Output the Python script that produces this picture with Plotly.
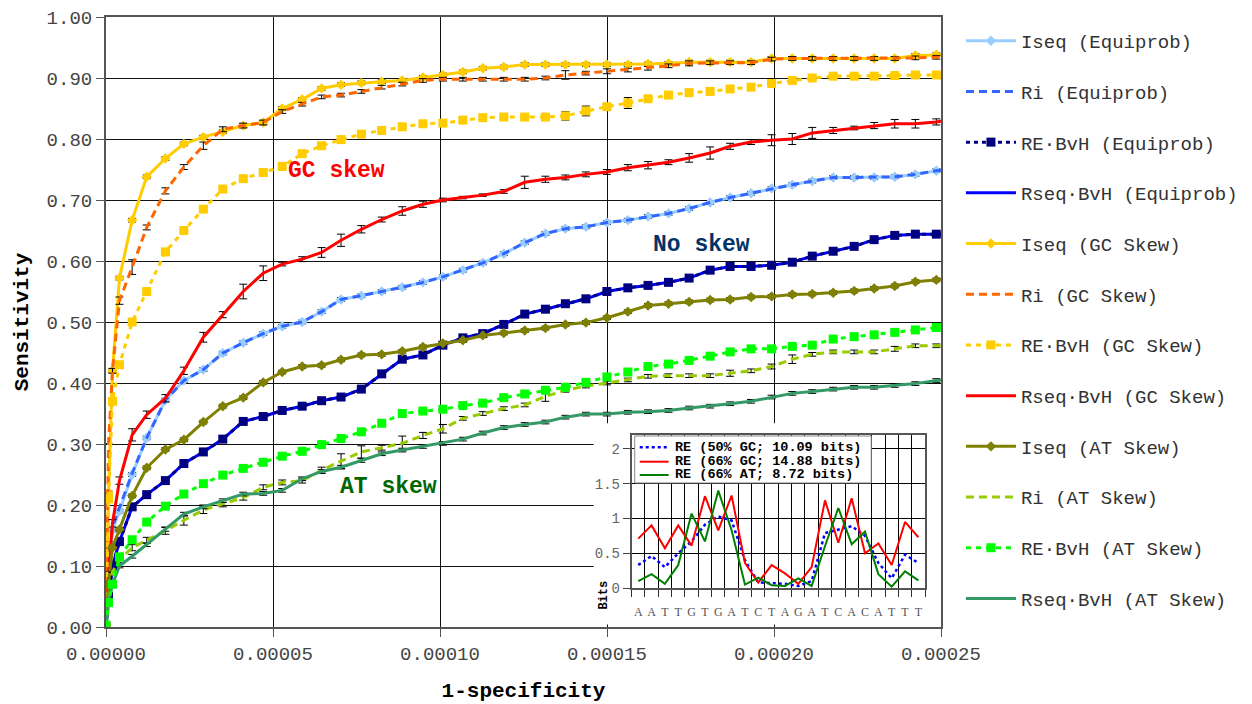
import plotly.graph_objects as go

# ---------------- data ----------------
# false positive rate (1-specificity), in units of 1e-6
fpr_per_million = [0, 0.75, 1.94, 4.03, 7.83, 12.19, 17.78, 23.31, 29.14, 34.97,
                   41.09, 47.07, 52.75, 58.73, 64.55, 70.38, 76.45, 82.55, 88.70, 94.89,
                   100.87, 106.85, 112.82, 119.10, 125.37, 131.56, 137.54, 143.69, 149.97, 156.24,
                   162.28, 168.41, 174.59, 180.87, 186.85, 193.13, 199.28, 205.47, 211.45, 217.72,
                   224.00, 229.98, 236.16, 242.32, 248.60, 254.78]
fpr = [v * 1e-6 for v in fpr_per_million]

iseq_eq = [0, 0.08, 0.159, 0.19, 0.25, 0.31, 0.372, 0.404, 0.422, 0.449,
           0.466, 0.481, 0.493, 0.500, 0.517, 0.537, 0.543, 0.550, 0.557, 0.565,
           0.574, 0.585, 0.597, 0.612, 0.630, 0.645, 0.653, 0.656, 0.663, 0.667,
           0.673, 0.678, 0.686, 0.696, 0.704, 0.711, 0.719, 0.725, 0.731, 0.737,
           0.737, 0.737, 0.738, 0.742, 0.748, 0.752]
ri_eq = [0, 0.09, 0.165, 0.195, 0.252, 0.31, 0.372, 0.404, 0.422, 0.449,
         0.466, 0.481, 0.493, 0.500, 0.517, 0.537, 0.543, 0.550, 0.557, 0.565,
         0.574, 0.585, 0.597, 0.612, 0.630, 0.645, 0.653, 0.656, 0.663, 0.667,
         0.673, 0.678, 0.686, 0.696, 0.704, 0.711, 0.719, 0.725, 0.731, 0.737,
         0.737, 0.737, 0.738, 0.742, 0.748, 0.752]
re_eq = [0, 0.05, 0.10, 0.14, 0.197, 0.217, 0.240, 0.268, 0.287, 0.308,
         0.337, 0.345, 0.355, 0.362, 0.371, 0.377, 0.390, 0.415, 0.439, 0.446,
         0.462, 0.474, 0.481, 0.496, 0.513, 0.521, 0.530, 0.538, 0.550, 0.556,
         0.560, 0.565, 0.572, 0.585, 0.591, 0.591, 0.593, 0.598, 0.608, 0.616,
         0.624, 0.635, 0.642, 0.644, 0.644, 0.644]
rseq_eq = [0, 0.05, 0.10, 0.14, 0.197, 0.217, 0.240, 0.268, 0.287, 0.308,
           0.337, 0.345, 0.355, 0.362, 0.371, 0.377, 0.390, 0.415, 0.439, 0.446,
           0.462, 0.474, 0.481, 0.496, 0.513, 0.521, 0.530, 0.538, 0.550, 0.556,
           0.560, 0.565, 0.572, 0.585, 0.591, 0.591, 0.593, 0.598, 0.608, 0.616,
           0.624, 0.635, 0.642, 0.644, 0.644, 0.644]

iseq_gc = [0, 0.22, 0.42, 0.572, 0.667, 0.738, 0.768, 0.792, 0.803, 0.812,
           0.822, 0.827, 0.850, 0.865, 0.883, 0.889, 0.892, 0.894, 0.896, 0.901,
           0.905, 0.910, 0.916, 0.918, 0.922, 0.922, 0.922, 0.922, 0.922, 0.922,
           0.923, 0.924, 0.926, 0.926, 0.926, 0.926, 0.932, 0.932, 0.932, 0.932,
           0.932, 0.932, 0.932, 0.937, 0.938, 0.938]
ri_gc = [0, 0.30, 0.42, 0.535, 0.59, 0.655, 0.715, 0.754, 0.789, 0.816,
         0.822, 0.827, 0.845, 0.857, 0.869, 0.872, 0.878, 0.885, 0.890, 0.896,
         0.898, 0.898, 0.898, 0.898, 0.898, 0.900, 0.905, 0.908, 0.911, 0.913,
         0.916, 0.920, 0.924, 0.925, 0.925, 0.925, 0.931, 0.932, 0.932, 0.932,
         0.932, 0.932, 0.932, 0.933, 0.934, 0.934]
re_gc = [0, 0.21, 0.37, 0.43, 0.50, 0.55, 0.615, 0.65, 0.685, 0.718,
         0.735, 0.745, 0.755, 0.776, 0.789, 0.799, 0.808, 0.814, 0.820, 0.825,
         0.826, 0.831, 0.835, 0.836, 0.836, 0.836, 0.838, 0.846, 0.853, 0.859,
         0.866, 0.872, 0.876, 0.878, 0.882, 0.885, 0.891, 0.896, 0.900, 0.903,
         0.903, 0.903, 0.904, 0.905, 0.905, 0.905]
rseq_gc = [0, 0.09, 0.17, 0.24, 0.315, 0.348, 0.375, 0.42, 0.475, 0.512,
           0.550, 0.58, 0.595, 0.603, 0.614, 0.634, 0.652, 0.668, 0.682, 0.693,
           0.700, 0.704, 0.708, 0.714, 0.729, 0.734, 0.737, 0.742, 0.746, 0.753,
           0.757, 0.762, 0.769, 0.777, 0.788, 0.795, 0.798, 0.800, 0.810, 0.814,
           0.818, 0.822, 0.825, 0.825, 0.828, 0.833]

iseq_at = [0, 0.07, 0.13, 0.16, 0.215, 0.261, 0.291, 0.307, 0.336, 0.362,
           0.376, 0.401, 0.418, 0.427, 0.429, 0.438, 0.446, 0.447, 0.452, 0.459,
           0.465, 0.470, 0.478, 0.482, 0.486, 0.490, 0.496, 0.499, 0.507, 0.517,
           0.527, 0.530, 0.533, 0.536, 0.537, 0.541, 0.542, 0.545, 0.546, 0.548,
           0.551, 0.555, 0.559, 0.566, 0.569, 0.572]
ri_at = [0, 0.04, 0.09, 0.11, 0.13, 0.142, 0.158, 0.175, 0.192, 0.202,
         0.212, 0.229, 0.237, 0.240, 0.257, 0.272, 0.287, 0.294, 0.301, 0.314,
         0.325, 0.342, 0.350, 0.358, 0.364, 0.378, 0.388, 0.395, 0.400, 0.405,
         0.411, 0.412, 0.412, 0.412, 0.416, 0.420, 0.427, 0.439, 0.447, 0.451,
         0.451, 0.451, 0.456, 0.461, 0.461, 0.462]
re_at = [0.003, 0.04, 0.07, 0.115, 0.143, 0.172, 0.198, 0.218, 0.235, 0.249,
         0.260, 0.270, 0.280, 0.288, 0.299, 0.309, 0.320, 0.334, 0.350, 0.354,
         0.357, 0.363, 0.367, 0.376, 0.382, 0.388, 0.393, 0.401, 0.410, 0.418,
         0.427, 0.431, 0.437, 0.444, 0.451, 0.456, 0.456, 0.460, 0.462, 0.472,
         0.476, 0.479, 0.483, 0.487, 0.491, 0.493]
rseq_at = [0, 0.04, 0.07, 0.10, 0.116, 0.135, 0.160, 0.185, 0.197, 0.207,
           0.218, 0.219, 0.224, 0.243, 0.255, 0.262, 0.273, 0.284, 0.290, 0.296,
           0.301, 0.308, 0.318, 0.327, 0.332, 0.336, 0.344, 0.349, 0.349, 0.352,
           0.353, 0.355, 0.359, 0.362, 0.366, 0.370, 0.377, 0.383, 0.386, 0.390,
           0.393, 0.393, 0.396, 0.399, 0.404, 0.407]

# error bar half-lengths
err_small = 0.003
err_ri_gc = [0, 0, 0.004, 0.006, 0.012, 0.004, 0.005, 0.004, 0.006, 0.004,
             0.004, 0.004, 0.003, 0.003, 0.003, 0.003, 0.003, 0.003, 0.003, 0.003,
             0.003, 0.003, 0.003, 0.003, 0.003, 0.003, 0.007, 0.003, 0.004, 0.003,
             0.003, 0.003, 0.004, 0.003, 0.003, 0.003, 0.003, 0.003, 0.003, 0.003,
             0.003, 0.003, 0.003, 0.003, 0.003, 0]
err_re_gc = [0, 0, 0.003, 0.003, 0.003, 0.004, 0.003, 0.003, 0.003, 0.003,
             0.003, 0.003, 0.003, 0.003, 0.003, 0.003, 0.003, 0.003, 0.003, 0.003,
             0.003, 0.003, 0.003, 0.003, 0.003, 0.003, 0.007, 0.008, 0.004, 0.009,
             0.003, 0.003, 0.003, 0.003, 0.003, 0.004, 0.003, 0.003, 0.003, 0.003,
             0.003, 0.003, 0.003, 0.003, 0.003, 0]
err_rseq_gc = [0, 0, 0.006, 0.006, 0.010, 0.006, 0.006, 0.006, 0.008, 0.005,
               0.012, 0.012, 0.003, 0.004, 0.008, 0.010, 0.006, 0.004, 0.007, 0.005,
               0.003, 0.002, 0.002, 0.003, 0.010, 0.005, 0.004, 0.004, 0.004, 0.005,
               0.006, 0.004, 0.007, 0.010, 0.005, 0.004, 0.009, 0.009, 0.009, 0.005,
               0.003, 0.005, 0.007, 0.007, 0.005, 0]
err_ri_at = [0, 0, 0, 0.004, 0.005, 0.005, 0.006, 0.008, 0.006, 0.005,
             0.004, 0.004, 0.004, 0.004, 0.005, 0.012, 0.010, 0.004, 0.012, 0.005,
             0.007, 0.003, 0.003, 0.003, 0.003, 0.008, 0.003, 0.003, 0.003, 0.003,
             0.003, 0.003, 0.003, 0.003, 0.005, 0.003, 0.004, 0.007, 0.003, 0.003,
             0.003, 0.003, 0.004, 0.003, 0.003, 0]

# inset: relative entropy per motif position
motif = list("AATTGTGATCTAGATCACATTT")
positions = list(range(1, len(motif) + 1))
re_50gc = [0.33, 0.46, 0.30, 0.50, 0.67, 0.91, 1.03, 0.97, 0.40, 0.08, 0.07,
           0.06, 0.03, 0.10, 0.79, 0.84, 0.89, 0.75, 0.36, 0.14, 0.48, 0.36]
re_66gc = [0.71, 0.90, 0.57, 0.90, 0.61, 1.32, 0.83, 1.33, 0.36, 0.08, 0.33,
           0.21, 0.06, 0.30, 1.26, 0.65, 1.29, 0.50, 0.64, 0.33, 0.95, 0.73]
re_66at = [0.10, 0.20, 0.06, 0.33, 1.07, 0.67, 1.40, 0.83, 0.05, 0.15, 0.04,
           0.03, 0.14, 0.03, 0.60, 1.15, 0.63, 0.81, 0.20, 0.02, 0.24, 0.11]
inset_names = ["RE (50% GC; 10.09 bits)", "RE (66% GC; 14.88 bits)", "RE (66% AT; 8.72 bits)"]
inset_colors = ["#0000FF", "#FF0000", "#008000"]
inset_dashes = ["3px,3px", "solid", "solid"]
inset_ticks = [0, 0.5, 1, 1.5, 2]
inset_ticktext = ["0", "0.5", "1", "1.5", "2"]

# ---------------- figure ----------------
MONO = "Liberation Mono, Courier New, monospace"
fig = go.Figure()


def add(name, y, color, dash, rank, symbol=None, msize=8, err=None):
    tr = dict(x=fpr, y=y, name=name, legendgroup=name, legendrank=rank,
              mode="lines+markers" if symbol else "lines",
              line=dict(color=color, width=3, dash=dash))
    if symbol:
        tr["marker"] = dict(symbol=symbol, size=msize, color=color)
    if err is not None:
        if isinstance(err, list):
            tr["error_y"] = dict(type="data", array=err, visible=True,
                                 color="black", thickness=1, width=4)
        else:
            tr["error_y"] = dict(type="constant", value=err, visible=True,
                                 color="black", thickness=1, width=4)
    fig.add_trace(go.Scatter(**tr))


add("Iseq (Equiprob)", iseq_eq, "#99CCFF", "solid", 1, "diamond", 8, err_small)
add("Ri (Equiprob)", ri_eq, "#3366FF", "8px,5px", 2)
add("Rseq\u00b7BvH (Equiprob)", rseq_eq, "#0000FF", "solid", 4)
add("RE\u00b7BvH (Equiprob)", re_eq, "#000080", "4px,4px", 3, "square", 9, err_small)
add("Iseq (GC Skew)", iseq_gc, "#FFCC00", "solid", 5, "diamond", 8, err_small)
add("Ri (GC Skew)", ri_gc, "#FF6600", "8px,5px", 6, None, 8, err_ri_gc)
add("Rseq\u00b7BvH (GC Skew)", rseq_gc, "#FF0000", "solid", 8, None, 8, err_rseq_gc)
add("RE\u00b7BvH (GC Skew)", re_gc, "#FFCC00", "5px,5px", 7, "square", 9, err_re_gc)
add("Iseq (AT Skew)", iseq_at, "#808000", "solid", 9, "diamond", 8, err_small)
add("Ri (AT Skew)", ri_at, "#99CC00", "8px,5px", 10, None, 8, err_ri_at)
add("Rseq\u00b7BvH (AT Skew)", rseq_at, "#339966", "solid", 12, None, 8, err_small)
add("RE\u00b7BvH (AT Skew)", re_at, "#00FF00", "5px,5px", 11, "square", 9, err_small)

# inset traces
for nm, yy, col, ds in zip(inset_names, [re_50gc, re_66gc, re_66at], inset_colors, inset_dashes):
    fig.add_trace(go.Scatter(x=positions, y=yy, xaxis="x2", yaxis="y2", mode="lines",
                             name=nm, showlegend=False,
                             line=dict(color=col, width=2.5 if ds != "solid" else 2, dash=ds)))

# inset key (box, sample lines, labels) in paper coordinates
key_rows_y = [0.2946, 0.2710, 0.2492]
shapes = [
    dict(type="rect", xref="x", yref="y", x0=0.000146, x1=0.00025,
         y0=0.004, y1=0.334, fillcolor="white", line=dict(width=0), layer="between"),
    dict(type="rect", xref="paper", yref="paper", x0=0.6332, x1=0.9164,
         y0=0.2361, y1=0.3131, fillcolor="white", line=dict(color="#888", width=1),
         layer="above"),
]
annotations = [
    dict(text="<b>GC skew</b>", x=6.89e-5, y=0.7475, xref="x", yref="y",
         showarrow=False, font=dict(family=MONO, size=23, color="#FF0000")),
    dict(text="<b>No skew</b>", x=1.7825e-4, y=0.626, xref="x", yref="y",
         showarrow=False, font=dict(family=MONO, size=23, color="#003366")),
    dict(text="<b>AT skew</b>", x=8.47e-5, y=0.2295, xref="x", yref="y",
         showarrow=False, font=dict(family=MONO, size=23, color="#006600")),
    dict(text="<b>Bits</b>", x=0.5968, y=0.052, xref="paper", yref="paper",
         xanchor="center", yanchor="middle",
         textangle=-90, showarrow=False, font=dict(family=MONO, size=12, color="black")),
]
for ky, nm, col, ds in zip(key_rows_y, inset_names, inset_colors, inset_dashes):
    shapes.append(dict(type="line", xref="paper", yref="paper", x0=0.6392, x1=0.6738,
                       y0=ky, y1=ky, layer="above",
                       line=dict(color=col, width=2.5 if ds != "solid" else 2, dash=ds)))
    annotations.append(dict(text="<b>" + nm + "</b>", x=0.6786, y=ky, xref="paper", yref="paper",
                            xanchor="left", yanchor="middle", showarrow=False,
                            font=dict(family=MONO, size=13.5, color="black")))

# the page body adds an 8px margin, so the figure is 8px smaller than the window
fig.update_layout(
    width=1244, height=696,
    margin=dict(l=98, r=309, t=9, b=77),
    paper_bgcolor="white", plot_bgcolor="white",
    font=dict(family=MONO, color="#444"),
    xaxis=dict(range=[0, 0.00025], dtick=0.00005, tick0=0, tickformat=".5f",
               showgrid=True, gridcolor="#111", gridwidth=1, zeroline=False,
               showline=True, linecolor="#555", linewidth=2, mirror=True,
               ticks="outside", ticklen=8, tickcolor="#555", automargin=False,
               ticklabeloverflow="allow",
               tickfont=dict(family=MONO, size=19, color="#444"),
               title=dict(text="<b>1-specificity</b>", standoff=18,
                          font=dict(family=MONO, size=21, color="black"))),
    yaxis=dict(range=[0, 1], dtick=0.1, tick0=0, tickformat=".2f",
               showgrid=True, gridcolor="#111", gridwidth=1, zeroline=False,
               showline=True, linecolor="#555", linewidth=2, mirror=True,
               ticks="outside", ticklen=8, tickcolor="#555", automargin=False,
               ticklabeloverflow="allow",
               tickfont=dict(family=MONO, size=19, color="#444"),
               title=dict(text="<b>Sensitivity</b>", standoff=12,
                          font=dict(family=MONO, size=21, color="black"))),
    xaxis2=dict(domain=[0.6294, 0.9809], anchor="y2", range=[0.5, 22.5],
                tickmode="array", tickvals=positions, ticktext=motif,
                ticks="outside", ticklen=12, tickcolor="rgba(0,0,0,0)",
                showgrid=False, zeroline=False, automargin=False,
                showline=True, linecolor="#555", linewidth=1.5, mirror=True,
                tickfont=dict(family="Liberation Serif, Times New Roman, serif", size=12, color="#555"),
                minor=dict(tickmode="array", tickvals=[i + 0.5 for i in range(len(motif) + 1)],
                           ticks="outside", ticklen=7, tickcolor="#333",
                           showgrid=True, gridcolor="black", gridwidth=1)),
    yaxis2=dict(domain=[0.0639, 0.3148], anchor="x2", range=[0, 2.2],
                tickmode="array", tickvals=inset_ticks, ticktext=inset_ticktext,
                ticks="outside", ticklen=7, tickcolor="#444", automargin=False,
                showgrid=True, gridcolor="black", gridwidth=1, zeroline=False,
                showline=True, linecolor="#555", linewidth=1.5, mirror=True,
                tickfont=dict(family=MONO, size=14, color="#666")),
    legend=dict(x=1.0239, y=0.992, xanchor="left", yanchor="top",
                font=dict(family=MONO, size=19, color="#333"),
                tracegroupgap=23, bgcolor="rgba(0,0,0,0)", itemwidth=50),
    shapes=shapes,
    annotations=annotations,
)

fig.write_html("out.html")
